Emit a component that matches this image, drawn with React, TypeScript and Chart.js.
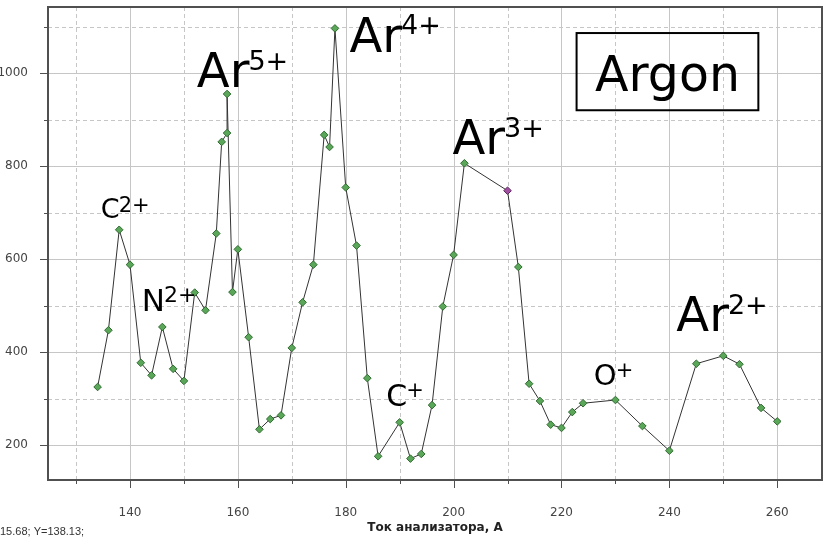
import React, { useEffect, useRef } from "react";
import { Chart, registerables } from "chart.js";

Chart.register(...registerables);

// Analyzer current, A
const current = [
  134, 136, 138, 140, 142, 144, 146, 148, 150, 152,
  154, 156, 157, 158, 158, 159, 160, 162, 164, 166,
  168, 170, 172, 174, 176, 177, 178, 180, 182, 184,
  186, 190, 192, 194, 196, 198, 200, 202, 210, 212,
  214, 216, 218, 220, 222, 224, 230, 235, 240, 245,
  250, 253, 257, 260,
];
// Signal
const intensity = [
  325, 447, 663, 588, 377, 350, 454, 364, 338, 528,
  490, 655, 852, 871, 955, 529, 621, 432, 234, 256,
  264, 409, 507, 588, 867, 841, 1096, 754, 629, 344,
  176, 249, 171, 181, 286, 498, 609, 806, 747, 583,
  332, 295, 244, 237, 271, 290, 297, 241, 188, 375,
  392, 374, 280, 251,
];
const highlightedCurrent = [210];

const xMajorTicks = [140, 160, 180, 200, 220, 240, 260];
const xMinorTicks = [130, 150, 170, 190, 210, 230, 250];
const yMajorTicks = [200, 400, 600, 800, 1000];
const yMinorTicks = [300, 500, 700, 900, 1100];

const xAxisTitle = "Ток анализатора, А";
const statusText = "15.68; Y=138.13;";

// Peak labels (ion name + charge superscript), anchored in data units
const peakBase = ["C", "N", "Ar", "Ar", "Ar", "C", "O", "Ar"];
const peakSup = ["2+", "2+", "5+", "4+", "3+", "+", "+", "2+"];
const peakAtX = [134.6, 142.2, 152.4, 180.7, 199.8, 187.5, 226.0, 241.3];
const peakAtY = [688, 489, 970, 1046, 826, 284, 329, 445];
const peakSize = [27, 31, 48, 48, 48, 30, 29, 48];
const peakSupSize = [21, 22, 27, 27, 27, 21, 21, 27];

const boxTitle = "Argon";
const boxFromX = 222.8;
const boxToX = 256.5;
const boxFromY = 1086;
const boxToY = 920;
const boxTextY = 961;

const FONT = '"DejaVu Sans", sans-serif';

const decorPlugin = {
  id: "decor",
  beforeDatasetsDraw(chart: any) {
    const { ctx, chartArea: a, scales } = chart;
    const x = scales.x;
    const y = scales.y;
    ctx.save();
    ctx.beginPath();
    ctx.rect(a.left, a.top, a.right - a.left, a.bottom - a.top);
    ctx.clip();
    ctx.lineWidth = 1;
    ctx.strokeStyle = "#c6c6c6";
    const vline = (v: number) => {
      const px = Math.round(x.getPixelForValue(v)) + 0.5;
      ctx.beginPath();
      ctx.moveTo(px, a.top);
      ctx.lineTo(px, a.bottom);
      ctx.stroke();
    };
    const hline = (v: number) => {
      const py = Math.round(y.getPixelForValue(v)) + 0.5;
      ctx.beginPath();
      ctx.moveTo(a.left, py);
      ctx.lineTo(a.right, py);
      ctx.stroke();
    };
    ctx.setLineDash([]);
    xMajorTicks.forEach(vline);
    yMajorTicks.forEach(hline);
    ctx.setLineDash([4, 3]);
    xMinorTicks.forEach(vline);
    yMinorTicks.forEach(hline);
    ctx.restore();
  },
  afterDatasetsDraw(chart: any) {
    const { ctx, chartArea: a, scales } = chart;
    const x = scales.x;
    const y = scales.y;
    ctx.save();
    // frame
    ctx.strokeStyle = "#505050";
    ctx.lineWidth = 2;
    ctx.strokeRect(a.left, a.top, a.right - a.left, a.bottom - a.top);
    // tick marks
    ctx.lineWidth = 1;
    const xTick = (v: number, len: number) => {
      const px = Math.round(x.getPixelForValue(v)) + 0.5;
      ctx.beginPath();
      ctx.moveTo(px, a.bottom);
      ctx.lineTo(px, a.bottom + len);
      ctx.stroke();
    };
    const yTick = (v: number, len: number) => {
      const py = Math.round(y.getPixelForValue(v)) + 0.5;
      ctx.beginPath();
      ctx.moveTo(a.left, py);
      ctx.lineTo(a.left - len, py);
      ctx.stroke();
    };
    xMajorTicks.forEach((v) => xTick(v, 8));
    xMinorTicks.forEach((v) => xTick(v, 4));
    yMajorTicks.forEach((v) => yTick(v, 8));
    yMinorTicks.forEach((v) => yTick(v, 4));

    // peak labels
    ctx.fillStyle = "#000";
    ctx.textAlign = "left";
    ctx.textBaseline = "alphabetic";
    peakBase.forEach((base, i) => {
      const px = x.getPixelForValue(peakAtX[i]);
      const py = y.getPixelForValue(peakAtY[i]);
      const s = peakSize[i];
      const ss = peakSupSize[i];
      ctx.font = `${s}px ${FONT}`;
      ctx.fillText(base, px, py);
      const w = ctx.measureText(base).width;
      ctx.font = `${ss}px ${FONT}`;
      ctx.fillText(peakSup[i], px + w - 1, py - 0.729 * s + 0.729 * ss - 2);
    });

    // Argon box
    const bx1 = x.getPixelForValue(boxFromX);
    const bx2 = x.getPixelForValue(boxToX);
    const by1 = y.getPixelForValue(boxFromY);
    const by2 = y.getPixelForValue(boxToY);
    ctx.strokeStyle = "#000";
    ctx.lineWidth = 2;
    ctx.strokeRect(bx1, by1, bx2 - bx1, by2 - by1);
    ctx.font = `49px ${FONT}`;
    ctx.textAlign = "center";
    ctx.fillText(boxTitle, (bx1 + bx2) / 2, y.getPixelForValue(boxTextY));

    // status text
    ctx.font = '11px "Liberation Sans", sans-serif';
    ctx.textAlign = "left";
    ctx.fillStyle = "#333";
    ctx.fillText(statusText, 0, 535);
    ctx.restore();
  },
};

export default function App() {
  const canvasRef = useRef<HTMLCanvasElement | null>(null);

  useEffect(() => {
    document.body.style.margin = "0";
    const canvas = canvasRef.current;
    if (!canvas) return;
    const points = current.map((c, i) => ({ x: c, y: intensity[i] }));
    const isHi = (ctx: any) => highlightedCurrent.includes(current[ctx.dataIndex]);
    const chart = new Chart(canvas, {
      type: "line",
      data: {
        datasets: [
          {
            data: points,
            borderColor: "#333",
            borderWidth: 1,
            tension: 0,
            pointStyle: "rectRot",
            pointRadius: 3.8,
            pointBorderWidth: 1,
            pointBackgroundColor: (ctx: any) => (isHi(ctx) ? "#a24fa2" : "#5aa75a"),
            pointBorderColor: (ctx: any) => (isHi(ctx) ? "#5a255a" : "#2f6a2f"),
          },
        ],
      },
      options: {
        animation: false,
        responsive: false,
        events: [],
        layout: { padding: { top: 7, right: 4, left: 0, bottom: 0 } },
        plugins: { legend: { display: false }, tooltip: { enabled: false } },
        scales: {
          x: {
            type: "linear",
            min: 124.8,
            max: 268.3,
            afterBuildTicks: (s: any) => {
              s.ticks = xMajorTicks.map((v) => ({ value: v }));
            },
            afterFit: (s: any) => {
              s.height = 58;
              s.paddingLeft = 0;
              s.paddingRight = 0;
              s.paddingTop = 0;
              s.paddingBottom = 0;
            },
            grid: { display: false },
            border: { display: false },
            ticks: {
              autoSkip: false,
              maxRotation: 0,
              padding: 18,
              color: "#444",
              font: { family: FONT, size: 12 },
              callback: (v: any) => String(v),
            },
            title: {
              display: true,
              text: xAxisTitle,
              color: "#222",
              font: { family: FONT, size: 12, weight: "bold" },
              padding: { top: 0, bottom: 3 },
            },
          },
          y: {
            type: "linear",
            min: 125,
            max: 1142,
            afterBuildTicks: (s: any) => {
              s.ticks = yMajorTicks.map((v) => ({ value: v }));
            },
            afterFit: (s: any) => {
              s.width = 48;
              s.paddingLeft = 0;
              s.paddingRight = 0;
              s.paddingTop = 0;
              s.paddingBottom = 0;
            },
            grid: { display: false },
            border: { display: false },
            ticks: {
              padding: 12,
              color: "#444",
              font: { family: FONT, size: 12 },
              callback: (v: any) => String(v),
            },
          },
        },
      },
      plugins: [decorPlugin],
    } as any);
    return () => chart.destroy();
  }, []);

  return (
    <div style={{ position: "absolute", left: 0, top: 0, width: 827, height: 538, background: "#fff" }}>
      <canvas ref={canvasRef} width={827} height={538} style={{ display: "block" }} />
    </div>
  );
}
